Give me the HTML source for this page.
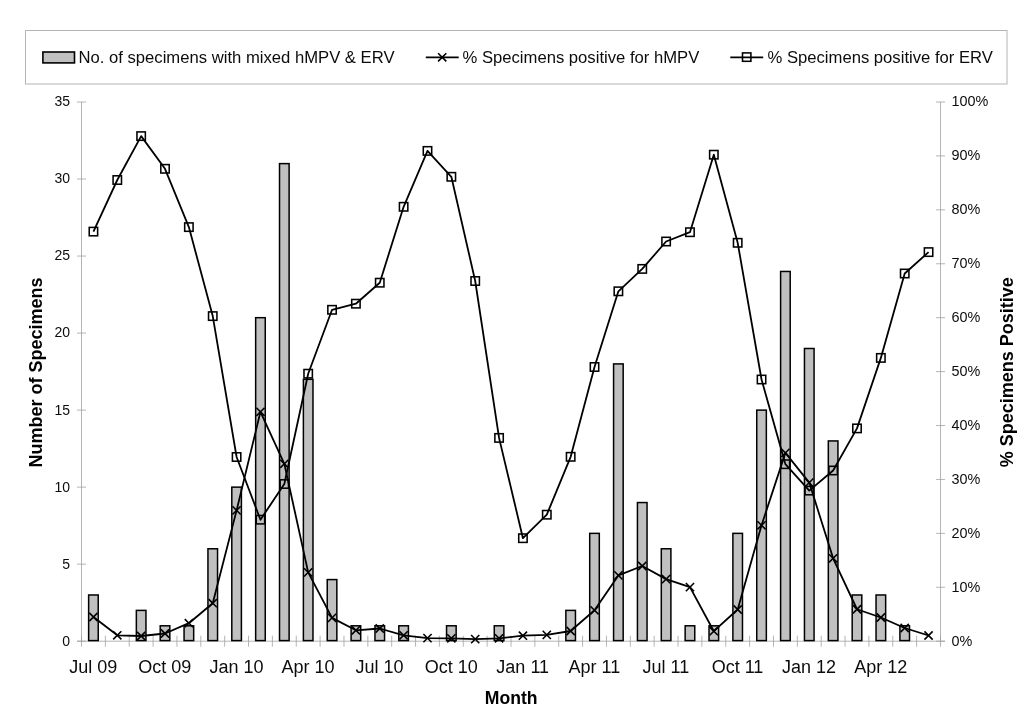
<!DOCTYPE html>
<html lang="en"><head><meta charset="utf-8"><title>Chart</title>
<style>html,body{margin:0;padding:0;background:#fff}body{width:1024px;height:715px;position:relative;overflow:hidden}</style>
</head><body>
<svg width="1024" height="715" viewBox="0 0 1024 715" style="position:absolute;left:0;top:0">
<rect x="25.5" y="30.5" width="981.5" height="53.5" fill="#fff" stroke="#b4b4b4" stroke-width="1"/>
<g stroke="#9c9c9c" stroke-width="0.75" fill="none">
<line x1="81.5" y1="102.0" x2="81.5" y2="641.2"/>
<line x1="940.5" y1="102.0" x2="940.5" y2="641.2"/>
<line x1="77.0" y1="641.2" x2="945.0" y2="641.2"/>
<line x1="77.0" y1="641.20" x2="86.0" y2="641.20"/>
<line x1="77.0" y1="564.17" x2="86.0" y2="564.17"/>
<line x1="77.0" y1="487.14" x2="86.0" y2="487.14"/>
<line x1="77.0" y1="410.11" x2="86.0" y2="410.11"/>
<line x1="77.0" y1="333.09" x2="86.0" y2="333.09"/>
<line x1="77.0" y1="256.06" x2="86.0" y2="256.06"/>
<line x1="77.0" y1="179.03" x2="86.0" y2="179.03"/>
<line x1="77.0" y1="102.00" x2="86.0" y2="102.00"/>
<line x1="936.0" y1="641.20" x2="945.0" y2="641.20"/>
<line x1="936.0" y1="587.28" x2="945.0" y2="587.28"/>
<line x1="936.0" y1="533.36" x2="945.0" y2="533.36"/>
<line x1="936.0" y1="479.44" x2="945.0" y2="479.44"/>
<line x1="936.0" y1="425.52" x2="945.0" y2="425.52"/>
<line x1="936.0" y1="371.60" x2="945.0" y2="371.60"/>
<line x1="936.0" y1="317.68" x2="945.0" y2="317.68"/>
<line x1="936.0" y1="263.76" x2="945.0" y2="263.76"/>
<line x1="936.0" y1="209.84" x2="945.0" y2="209.84"/>
<line x1="936.0" y1="155.92" x2="945.0" y2="155.92"/>
<line x1="936.0" y1="102.00" x2="945.0" y2="102.00"/>
<line x1="81.50" y1="635.7" x2="81.50" y2="646.7"/>
<line x1="105.36" y1="635.7" x2="105.36" y2="646.7"/>
<line x1="129.22" y1="635.7" x2="129.22" y2="646.7"/>
<line x1="153.08" y1="635.7" x2="153.08" y2="646.7"/>
<line x1="176.94" y1="635.7" x2="176.94" y2="646.7"/>
<line x1="200.81" y1="635.7" x2="200.81" y2="646.7"/>
<line x1="224.67" y1="635.7" x2="224.67" y2="646.7"/>
<line x1="248.53" y1="635.7" x2="248.53" y2="646.7"/>
<line x1="272.39" y1="635.7" x2="272.39" y2="646.7"/>
<line x1="296.25" y1="635.7" x2="296.25" y2="646.7"/>
<line x1="320.11" y1="635.7" x2="320.11" y2="646.7"/>
<line x1="343.97" y1="635.7" x2="343.97" y2="646.7"/>
<line x1="367.83" y1="635.7" x2="367.83" y2="646.7"/>
<line x1="391.69" y1="635.7" x2="391.69" y2="646.7"/>
<line x1="415.56" y1="635.7" x2="415.56" y2="646.7"/>
<line x1="439.42" y1="635.7" x2="439.42" y2="646.7"/>
<line x1="463.28" y1="635.7" x2="463.28" y2="646.7"/>
<line x1="487.14" y1="635.7" x2="487.14" y2="646.7"/>
<line x1="511.00" y1="635.7" x2="511.00" y2="646.7"/>
<line x1="534.86" y1="635.7" x2="534.86" y2="646.7"/>
<line x1="558.72" y1="635.7" x2="558.72" y2="646.7"/>
<line x1="582.58" y1="635.7" x2="582.58" y2="646.7"/>
<line x1="606.44" y1="635.7" x2="606.44" y2="646.7"/>
<line x1="630.31" y1="635.7" x2="630.31" y2="646.7"/>
<line x1="654.17" y1="635.7" x2="654.17" y2="646.7"/>
<line x1="678.03" y1="635.7" x2="678.03" y2="646.7"/>
<line x1="701.89" y1="635.7" x2="701.89" y2="646.7"/>
<line x1="725.75" y1="635.7" x2="725.75" y2="646.7"/>
<line x1="749.61" y1="635.7" x2="749.61" y2="646.7"/>
<line x1="773.47" y1="635.7" x2="773.47" y2="646.7"/>
<line x1="797.33" y1="635.7" x2="797.33" y2="646.7"/>
<line x1="821.19" y1="635.7" x2="821.19" y2="646.7"/>
<line x1="845.06" y1="635.7" x2="845.06" y2="646.7"/>
<line x1="868.92" y1="635.7" x2="868.92" y2="646.7"/>
<line x1="892.78" y1="635.7" x2="892.78" y2="646.7"/>
<line x1="916.64" y1="635.7" x2="916.64" y2="646.7"/>
<line x1="940.50" y1="635.7" x2="940.50" y2="646.7"/>
</g>
<g fill="#c0c0c0" stroke="#000" stroke-width="1.5">
<rect x="88.63" y="594.98" width="9.6" height="45.62"/>
<rect x="136.35" y="610.39" width="9.6" height="30.21"/>
<rect x="160.21" y="625.79" width="9.6" height="14.81"/>
<rect x="184.07" y="625.79" width="9.6" height="14.81"/>
<rect x="207.94" y="548.77" width="9.6" height="91.83"/>
<rect x="231.80" y="487.14" width="9.6" height="153.46"/>
<rect x="255.66" y="317.68" width="9.6" height="322.92"/>
<rect x="279.52" y="163.62" width="9.6" height="476.98"/>
<rect x="303.38" y="379.30" width="9.6" height="261.30"/>
<rect x="327.24" y="579.58" width="9.6" height="61.02"/>
<rect x="351.10" y="625.79" width="9.6" height="14.81"/>
<rect x="374.96" y="625.79" width="9.6" height="14.81"/>
<rect x="398.82" y="625.79" width="9.6" height="14.81"/>
<rect x="446.55" y="625.79" width="9.6" height="14.81"/>
<rect x="494.27" y="625.79" width="9.6" height="14.81"/>
<rect x="565.85" y="610.39" width="9.6" height="30.21"/>
<rect x="589.71" y="533.36" width="9.6" height="107.24"/>
<rect x="613.58" y="363.90" width="9.6" height="276.70"/>
<rect x="637.44" y="502.55" width="9.6" height="138.05"/>
<rect x="661.30" y="548.77" width="9.6" height="91.83"/>
<rect x="685.16" y="625.79" width="9.6" height="14.81"/>
<rect x="709.02" y="625.79" width="9.6" height="14.81"/>
<rect x="732.88" y="533.36" width="9.6" height="107.24"/>
<rect x="756.74" y="410.11" width="9.6" height="230.49"/>
<rect x="780.60" y="271.46" width="9.6" height="369.14"/>
<rect x="804.46" y="348.49" width="9.6" height="292.11"/>
<rect x="828.33" y="440.93" width="9.6" height="199.67"/>
<rect x="852.19" y="594.98" width="9.6" height="45.62"/>
<rect x="876.05" y="594.98" width="9.6" height="45.62"/>
<rect x="899.91" y="625.79" width="9.6" height="14.81"/>
</g>
<polyline points="93.43,617.00 117.29,635.30 141.15,636.00 165.01,633.50 188.88,623.20 212.74,603.20 236.60,510.40 260.46,411.80 284.32,463.80 308.18,572.40 332.04,617.90 355.90,630.30 379.76,628.50 403.62,635.30 427.49,638.10 451.35,638.30 475.21,639.10 499.07,638.30 522.93,635.70 546.79,634.90 570.65,631.00 594.51,610.30 618.38,575.40 642.24,566.00 666.10,579.10 689.96,587.10 713.82,631.20 737.68,609.50 761.54,525.30 785.40,452.90 809.26,482.60 833.12,558.30 856.99,609.25 880.85,617.50 904.71,628.00 928.57,635.50" fill="none" stroke="#000" stroke-width="1.8" stroke-linejoin="round"/>
<polyline points="93.43,231.60 117.29,180.00 141.15,136.10 165.01,168.80 188.88,227.10 212.74,316.10 236.60,457.00 260.46,519.70 284.32,484.00 308.18,373.70 332.04,309.80 355.90,303.70 379.76,282.70 403.62,206.80 427.49,150.90 451.35,176.80 475.21,281.00 499.07,437.90 522.93,538.20 546.79,514.70 570.65,456.80 594.51,367.00 618.38,291.30 642.24,268.90 666.10,241.50 689.96,232.20 713.82,154.70 737.68,242.80 761.54,379.50 785.40,464.20 809.26,490.60 833.12,470.50 856.99,428.40 880.85,357.90 904.71,273.50 928.57,252.10" fill="none" stroke="#000" stroke-width="1.8" stroke-linejoin="round"/>
<g stroke="#000" stroke-width="1.6" fill="none">
<path d="M89.33 612.90L97.53 621.10M89.33 621.10L97.53 612.90"/>
<path d="M113.19 631.20L121.39 639.40M113.19 639.40L121.39 631.20"/>
<path d="M137.05 631.90L145.25 640.10M137.05 640.10L145.25 631.90"/>
<path d="M160.91 629.40L169.11 637.60M160.91 637.60L169.11 629.40"/>
<path d="M184.78 619.10L192.97 627.30M184.78 627.30L192.97 619.10"/>
<path d="M208.64 599.10L216.84 607.30M208.64 607.30L216.84 599.10"/>
<path d="M232.50 506.30L240.70 514.50M232.50 514.50L240.70 506.30"/>
<path d="M256.36 407.70L264.56 415.90M256.36 415.90L264.56 407.70"/>
<path d="M280.22 459.70L288.42 467.90M280.22 467.90L288.42 459.70"/>
<path d="M304.08 568.30L312.28 576.50M304.08 576.50L312.28 568.30"/>
<path d="M327.94 613.80L336.14 622.00M327.94 622.00L336.14 613.80"/>
<path d="M351.80 626.20L360.00 634.40M351.80 634.40L360.00 626.20"/>
<path d="M375.66 624.40L383.86 632.60M375.66 632.60L383.86 624.40"/>
<path d="M399.52 631.20L407.73 639.40M399.52 639.40L407.73 631.20"/>
<path d="M423.39 634.00L431.59 642.20M423.39 642.20L431.59 634.00"/>
<path d="M447.25 634.20L455.45 642.40M447.25 642.40L455.45 634.20"/>
<path d="M471.11 635.00L479.31 643.20M471.11 643.20L479.31 635.00"/>
<path d="M494.97 634.20L503.17 642.40M494.97 642.40L503.17 634.20"/>
<path d="M518.83 631.60L527.03 639.80M518.83 639.80L527.03 631.60"/>
<path d="M542.69 630.80L550.89 639.00M542.69 639.00L550.89 630.80"/>
<path d="M566.55 626.90L574.75 635.10M566.55 635.10L574.75 626.90"/>
<path d="M590.41 606.20L598.61 614.40M590.41 614.40L598.61 606.20"/>
<path d="M614.27 571.30L622.48 579.50M614.27 579.50L622.48 571.30"/>
<path d="M638.14 561.90L646.34 570.10M638.14 570.10L646.34 561.90"/>
<path d="M662.00 575.00L670.20 583.20M662.00 583.20L670.20 575.00"/>
<path d="M685.86 583.00L694.06 591.20M685.86 591.20L694.06 583.00"/>
<path d="M709.72 627.10L717.92 635.30M709.72 635.30L717.92 627.10"/>
<path d="M733.58 605.40L741.78 613.60M733.58 613.60L741.78 605.40"/>
<path d="M757.44 521.20L765.64 529.40M757.44 529.40L765.64 521.20"/>
<path d="M781.30 448.80L789.50 457.00M781.30 457.00L789.50 448.80"/>
<path d="M805.16 478.50L813.36 486.70M805.16 486.70L813.36 478.50"/>
<path d="M829.02 554.20L837.23 562.40M829.02 562.40L837.23 554.20"/>
<path d="M852.89 605.15L861.09 613.35M852.89 613.35L861.09 605.15"/>
<path d="M876.75 613.40L884.95 621.60M876.75 621.60L884.95 613.40"/>
<path d="M900.61 623.90L908.81 632.10M900.61 632.10L908.81 623.90"/>
<path d="M924.47 631.40L932.67 639.60M924.47 639.60L932.67 631.40"/>
</g>
<g stroke="#000" stroke-width="1.55" fill="none">
<rect x="89.23" y="227.40" width="8.4" height="8.4"/>
<rect x="113.09" y="175.80" width="8.4" height="8.4"/>
<rect x="136.95" y="131.90" width="8.4" height="8.4"/>
<rect x="160.81" y="164.60" width="8.4" height="8.4"/>
<rect x="184.68" y="222.90" width="8.4" height="8.4"/>
<rect x="208.54" y="311.90" width="8.4" height="8.4"/>
<rect x="232.40" y="452.80" width="8.4" height="8.4"/>
<rect x="256.26" y="515.50" width="8.4" height="8.4"/>
<rect x="280.12" y="479.80" width="8.4" height="8.4"/>
<rect x="303.98" y="369.50" width="8.4" height="8.4"/>
<rect x="327.84" y="305.60" width="8.4" height="8.4"/>
<rect x="351.70" y="299.50" width="8.4" height="8.4"/>
<rect x="375.56" y="278.50" width="8.4" height="8.4"/>
<rect x="399.43" y="202.60" width="8.4" height="8.4"/>
<rect x="423.29" y="146.70" width="8.4" height="8.4"/>
<rect x="447.15" y="172.60" width="8.4" height="8.4"/>
<rect x="471.01" y="276.80" width="8.4" height="8.4"/>
<rect x="494.87" y="433.70" width="8.4" height="8.4"/>
<rect x="518.73" y="534.00" width="8.4" height="8.4"/>
<rect x="542.59" y="510.50" width="8.4" height="8.4"/>
<rect x="566.45" y="452.60" width="8.4" height="8.4"/>
<rect x="590.31" y="362.80" width="8.4" height="8.4"/>
<rect x="614.17" y="287.10" width="8.4" height="8.4"/>
<rect x="638.04" y="264.70" width="8.4" height="8.4"/>
<rect x="661.90" y="237.30" width="8.4" height="8.4"/>
<rect x="685.76" y="228.00" width="8.4" height="8.4"/>
<rect x="709.62" y="150.50" width="8.4" height="8.4"/>
<rect x="733.48" y="238.60" width="8.4" height="8.4"/>
<rect x="757.34" y="375.30" width="8.4" height="8.4"/>
<rect x="781.20" y="460.00" width="8.4" height="8.4"/>
<rect x="805.06" y="486.40" width="8.4" height="8.4"/>
<rect x="828.92" y="466.30" width="8.4" height="8.4"/>
<rect x="852.79" y="424.20" width="8.4" height="8.4"/>
<rect x="876.65" y="353.70" width="8.4" height="8.4"/>
<rect x="900.51" y="269.30" width="8.4" height="8.4"/>
<rect x="924.37" y="247.90" width="8.4" height="8.4"/>
</g>
<rect x="42.9" y="52.0" width="31.6" height="10.9" fill="#c0c0c0" stroke="#000" stroke-width="1.6"/>
<g stroke="#000" stroke-width="1.7" fill="none">
<line x1="425.8" y1="57.3" x2="458.7" y2="57.3"/>
<path d="M438.1 53.2L446.3 61.4M438.1 61.4L446.3 53.2" stroke-width="1.6"/>
<line x1="730.3" y1="57.3" x2="763.2" y2="57.3"/>
<rect x="742.5" y="52.9" width="8.4" height="8.4" stroke-width="1.55"/>
</g>
<g font-family="Liberation Sans, Arial, sans-serif" fill="#0c0c0c">
<g font-size="14px" text-anchor="end">
<text x="70" y="645.60">0</text>
<text x="70" y="568.57">5</text>
<text x="70" y="491.54">10</text>
<text x="70" y="414.51">15</text>
<text x="70" y="337.49">20</text>
<text x="70" y="260.46">25</text>
<text x="70" y="183.43">30</text>
<text x="70" y="106.40">35</text>
</g>
<g font-size="14.4px" text-anchor="start">
<text x="951.5" y="645.50">0%</text>
<text x="951.5" y="591.58">10%</text>
<text x="951.5" y="537.66">20%</text>
<text x="951.5" y="483.74">30%</text>
<text x="951.5" y="429.82">40%</text>
<text x="951.5" y="375.90">50%</text>
<text x="951.5" y="321.98">60%</text>
<text x="951.5" y="268.06">70%</text>
<text x="951.5" y="214.14">80%</text>
<text x="951.5" y="160.22">90%</text>
<text x="951.5" y="106.30">100%</text>
</g>
<g font-size="18px" text-anchor="middle">
<text x="93.23" y="673.3">Jul 09</text>
<text x="164.81" y="673.3">Oct 09</text>
<text x="236.40" y="673.3">Jan 10</text>
<text x="307.98" y="673.3">Apr 10</text>
<text x="379.56" y="673.3">Jul 10</text>
<text x="451.15" y="673.3">Oct 10</text>
<text x="522.73" y="673.3">Jan 11</text>
<text x="594.31" y="673.3">Apr 11</text>
<text x="665.90" y="673.3">Jul 11</text>
<text x="737.48" y="673.3">Oct 11</text>
<text x="809.06" y="673.3">Jan 12</text>
<text x="880.65" y="673.3">Apr 12</text>
</g>
<g font-size="16.65px">
<text x="78.5" y="63.4">No. of specimens with mixed hMPV &amp; ERV</text>
<text x="462.5" y="63.4">% Specimens positive for hMPV</text>
<text x="767.5" y="63.4">% Specimens positive for ERV</text>
</g>
<g font-size="17.6px" font-weight="bold" fill="#000">
<text x="511.2" y="703.6" text-anchor="middle">Month</text>
<text transform="translate(42.2 372.4) rotate(-90) scale(1 1.04)" text-anchor="middle" font-size="18px">Number of Specimens</text>
<text transform="translate(1013.2 372.3) rotate(-90) scale(1 1.06)" text-anchor="middle" font-size="18px">% Specimens Positive</text>
</g>
</g>
</svg>
</body></html>
